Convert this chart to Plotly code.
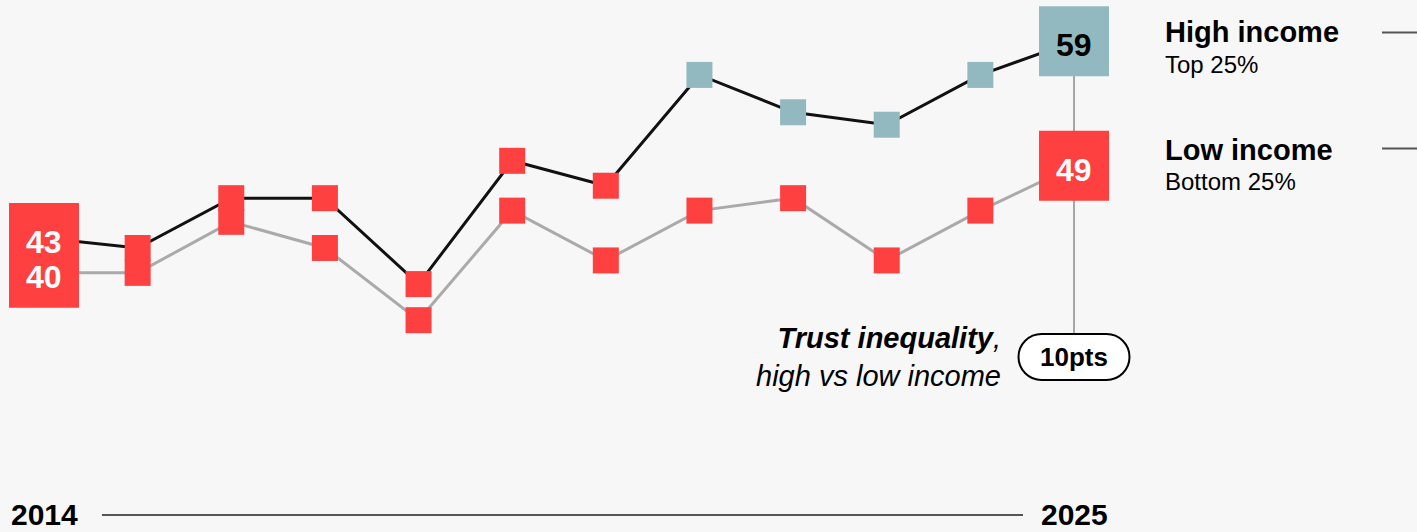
import plotly.graph_objects as go

# ---- data ----
years = [2014, 2015, 2016, 2017, 2018, 2019, 2020, 2021, 2022, 2023, 2024, 2025]
high_income = [43.2, 42.4, 46.4, 46.4, 39.5, 49.4, 47.4, 56.3, 53.3, 52.3, 56.3, 59.0]
low_income = [40.4, 40.4, 44.5, 42.4, 36.6, 45.4, 41.4, 45.4, 46.4, 41.4, 45.4, 49.0]
series_names = ["High income", "Low income"]
series_subtitles = ["Top 25%", "Bottom 25%"]
trust_threshold = 50

# ---- styles ----
W, H = 1417, 532
BG = "#F7F7F7"
RED = "#FF4040"
TEAL = "#93B9C0"
FONT = "Liberation Sans, Arial, sans-serif"


def colour(v):
    return TEAL if v >= trust_threshold else RED


def text_colour(v):
    return "black" if v >= trust_threshold else "white"


def py(px):  # pixel from top -> paper
    return 1 - px / H


def pxx(px):
    return px / W


# axis ranges from pixel anchors
x_px0, x_px1 = 44, 1074
ppy = (x_px1 - x_px0) / (years[-1] - years[0])
x_range = [years[0] - x_px0 / ppy, years[0] + (W - x_px0) / ppy]
y_ppu = 12.45
y_top_px = 41.3
ref_v = round(high_income[-1])
y_range = [ref_v - (H - y_top_px) / y_ppu, ref_v + y_top_px / y_ppu]

fig = go.Figure()

# lines
fig.add_trace(go.Scatter(x=years, y=low_income, mode="lines",
                         line=dict(color="#AAAAAA", width=3), hoverinfo="skip"))
fig.add_trace(go.Scatter(x=years, y=high_income, mode="lines",
                         line=dict(color="#111111", width=3), hoverinfo="skip"))

# small markers (interior years)
for s in (low_income, high_income):
    fig.add_trace(go.Scatter(
        x=years[1:-1], y=s[1:-1], mode="markers",
        marker=dict(symbol="square", size=26, color=[colour(v) for v in s[1:-1]],
                    line=dict(width=0)),
        hoverinfo="skip", cliponaxis=False))

# end boxes
for s in (low_income, high_income):
    ends_y = [s[0], s[-1]]
    fig.add_trace(go.Scatter(
        x=[years[0], years[-1]], y=ends_y, mode="markers",
        marker=dict(symbol="square", size=70, color=[colour(v) for v in ends_y],
                    line=dict(width=0)),
        hoverinfo="skip", cliponaxis=False))

annotations = []
# end labels (above all boxes)
for s in (low_income, high_income):
    for xi, v in ((years[0], s[0]), (years[-1], s[-1])):
        annotations.append(dict(x=xi, y=v, xref="x", yref="y", text=f"<b>{round(v)}</b>",
                                showarrow=False, xanchor="center", yanchor="middle",
                                yshift=-4,
                                font=dict(family=FONT, size=32, color=text_colour(v))))

shapes = []
pill_px = 357
pill_y = py(pill_px)
shapes.append(dict(type="line", xref="x", yref="y", x0=years[-1], x1=years[-1],
                   y0=high_income[-1], y1=y_range[0] + (H - pill_px) / y_ppu,
                   line=dict(color="#A6A6A6", width=2), layer="below"))
# pill
k = 0.5523
hw, hh = 55.5, 23
s_ = hw - hh
path = (f"M {-s_},{hh} L {s_},{hh} "
        f"C {s_ + k*hh},{hh} {hw},{k*hh} {hw},0 "
        f"C {hw},{-k*hh} {s_ + k*hh},{-hh} {s_},{-hh} "
        f"L {-s_},{-hh} "
        f"C {-s_ - k*hh},{-hh} {-hw},{-k*hh} {-hw},0 "
        f"C {-hw},{k*hh} {-s_ - k*hh},{hh} {-s_},{hh} Z")
shapes.append(dict(type="path", xref="x", yref="paper", xsizemode="pixel",
                   ysizemode="pixel", xanchor=years[-1], yanchor=pill_y, path=path,
                   fillcolor="white", line=dict(color="black", width=2), layer="above"))
# bottom timeline
shapes.append(dict(type="line", xref="paper", yref="paper", x0=pxx(102), x1=pxx(1023),
                   y0=py(515), y1=py(515), line=dict(color="#555555", width=2)))
# legend ticks on the right
for ypx in (32.5, 148.5):
    shapes.append(dict(type="line", xref="paper", yref="paper", x0=pxx(1382), x1=1,
                       y0=py(ypx), y1=py(ypx), line=dict(color="#555555", width=2)))

gap = round(high_income[-1]) - round(low_income[-1])
annotations.append(dict(x=years[-1], y=pill_y, xref="x", yref="paper",
                        text=f"<b>{gap}pts</b>", showarrow=False,
                        font=dict(family=FONT, size=26, color="black"),
                        xanchor="center", yanchor="middle"))
annotations.append(dict(x=pxx(1003), y=pill_y, xref="paper", yref="paper",
                        text="<b><i>Trust inequality</i></b><i>,</i><br><i>high vs low income</i>",
                        showarrow=False, align="right", xanchor="right", yanchor="middle",
                        font=dict(family=FONT, size=29, color="black")))
# year labels
for yr in (years[0], years[-1]):
    annotations.append(dict(x=yr, y=py(514), xref="x", yref="paper", text=f"<b>{yr}</b>",
                            showarrow=False, xanchor="center", yanchor="middle",
                            borderpad=0,
                            font=dict(family=FONT, size=30, color="black")))
# series labels
for name, sub, t_px, s_px in zip(series_names, series_subtitles, (32.5, 149.5), (64.5, 181.5)):
    annotations.append(dict(x=pxx(1163), y=py(t_px), xref="paper", yref="paper",
                            text=f"<b>{name}</b>", showarrow=False, xanchor="left",
                            yanchor="middle", font=dict(family=FONT, size=29, color="black")))
    annotations.append(dict(x=pxx(1163), y=py(s_px), xref="paper", yref="paper",
                            text=sub, showarrow=False, xanchor="left",
                            yanchor="middle", font=dict(family=FONT, size=24, color="black")))

fig.update_layout(
    width=W, height=H, margin=dict(l=0, r=0, t=0, b=0),
    paper_bgcolor=BG, plot_bgcolor=BG, showlegend=False,
    xaxis=dict(range=x_range, visible=False, fixedrange=True),
    yaxis=dict(range=y_range, visible=False, fixedrange=True),
    shapes=shapes, annotations=annotations,
    font=dict(family=FONT),
)

fig.write_html(
    "out.html",
    config={"displayModeBar": False},
    post_script="document.body.style.margin='0';document.body.style.background='#F7F7F7';",
)
